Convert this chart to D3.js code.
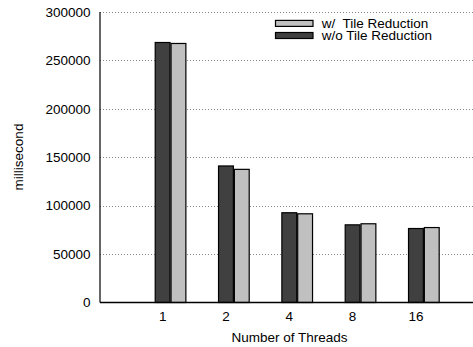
<!DOCTYPE html>
<html>
<head>
<meta charset="utf-8">
<script src="https://cdn.jsdelivr.net/npm/d3@7"></script>
<style>
html,body{margin:0;padding:0;background:#fff;}
svg{display:block;font-family:"Liberation Sans",Arial,sans-serif;}
text{white-space:pre;}
</style>
</head>
<body>
<svg id="chart" width="473" height="347"></svg>
<script>
const categories = ["1", "2", "4", "8", "16"];
const seriesNames = ["w/o Tile Reduction", "w/  Tile Reduction"];
const withoutReduction = [268500, 141000, 92700, 80200, 76400];
const withReduction = [267500, 137500, 91600, 81300, 77400];
const yTicks = [0, 50000, 100000, 150000, 200000, 250000, 300000];
const colors = ["#404040", "#c0c0c0"];
const legendOrder = [1, 0];

const svg = d3.select("#chart");
const plotL = 100, plotR = 473, plotT = 12, plotB = 302.5;
const fs = "13.5px";

const y = d3.scaleLinear().domain([0, 300000]).range([plotB, plotT]);
const x = d3.scaleBand().domain(categories).range([100, 494.4]).paddingInner(0.5).paddingOuter(0.864);
const xs = d3.scaleBand().domain([0, 1]).range([0, x.bandwidth()]);

// gridlines
svg.append("g").selectAll("line").data(yTicks.filter(d => d > 0)).join("line")
  .attr("x1", plotL).attr("x2", plotR)
  .attr("y1", d => Math.round(y(d)) + 0.5).attr("y2", d => Math.round(y(d)) + 0.5)
  .attr("stroke", "#888").attr("stroke-width", 1).attr("stroke-dasharray", "1,2");

// y tick labels
const yAxis = d3.axisLeft(y).tickValues(yTicks).tickSize(0).tickPadding(9.5).tickFormat(d3.format("d"));
const gy = svg.append("g").attr("transform", `translate(${plotL},0)`).call(yAxis);
gy.select(".domain").remove();
gy.selectAll("text").attr("font-size", fs).attr("fill", "#000").attr("font-family", "Liberation Sans, Arial, sans-serif");

// bars
const data = categories.map((c, i) => ({c, vals: [withoutReduction[i], withReduction[i]]}));
const groups = svg.append("g").selectAll("g").data(data).join("g")
  .attr("transform", d => `translate(${x(d.c)},0)`);
groups.selectAll("rect").data(d => d.vals.map((v, k) => ({v, k}))).join("rect")
  .attr("x", d => xs(d.k) + 0.5)
  .attr("y", d => y(d.v))
  .attr("width", xs.bandwidth() - 1)
  .attr("height", d => plotB - y(d.v))
  .attr("fill", d => colors[d.k])
  .attr("stroke", "#000").attr("stroke-width", 1.2);

// axes lines
svg.append("line").attr("x1", plotL).attr("x2", plotL).attr("y1", plotT).attr("y2", plotB)
  .attr("stroke", "#000").attr("stroke-width", 1.2);
svg.append("line").attr("x1", plotL).attr("x2", plotR).attr("y1", plotB).attr("y2", plotB)
  .attr("stroke", "#000").attr("stroke-width", 1.5);

// x tick labels at first bar center
const xAxis = d3.axisBottom(x).tickSize(0).tickPadding(9);
const gx = svg.append("g").attr("transform", `translate(0,${plotB})`).call(xAxis);
gx.select(".domain").remove();
gx.selectAll(".tick").attr("transform", d => `translate(${x(d) + xs.bandwidth() / 2},0)`);
gx.selectAll("text").attr("font-size", fs).attr("fill", "#000").attr("font-family", "Liberation Sans, Arial, sans-serif");

// axis titles
svg.append("text").attr("x", 289.5).attr("y", 341.5).attr("text-anchor", "middle")
  .attr("font-size", fs).text("Number of Threads");
svg.append("text").attr("transform", "translate(23.3,157) rotate(-90)").attr("text-anchor", "middle")
  .attr("font-size", fs).text("millisecond");

// legend
const lg = svg.append("g");
legendOrder.forEach((k, r) => {
  const cy = 23.4 + r * 12.1;
  lg.append("rect").attr("x", 275.5).attr("y", cy - 3).attr("width", 37.5).attr("height", 6)
    .attr("fill", colors[k]).attr("stroke", "#000").attr("stroke-width", 1.2);
  lg.append("text").attr("x", 321.7).attr("y", cy + 4.9).attr("font-size", fs).text(seriesNames[k]);
});
</script>
</body>
</html>
